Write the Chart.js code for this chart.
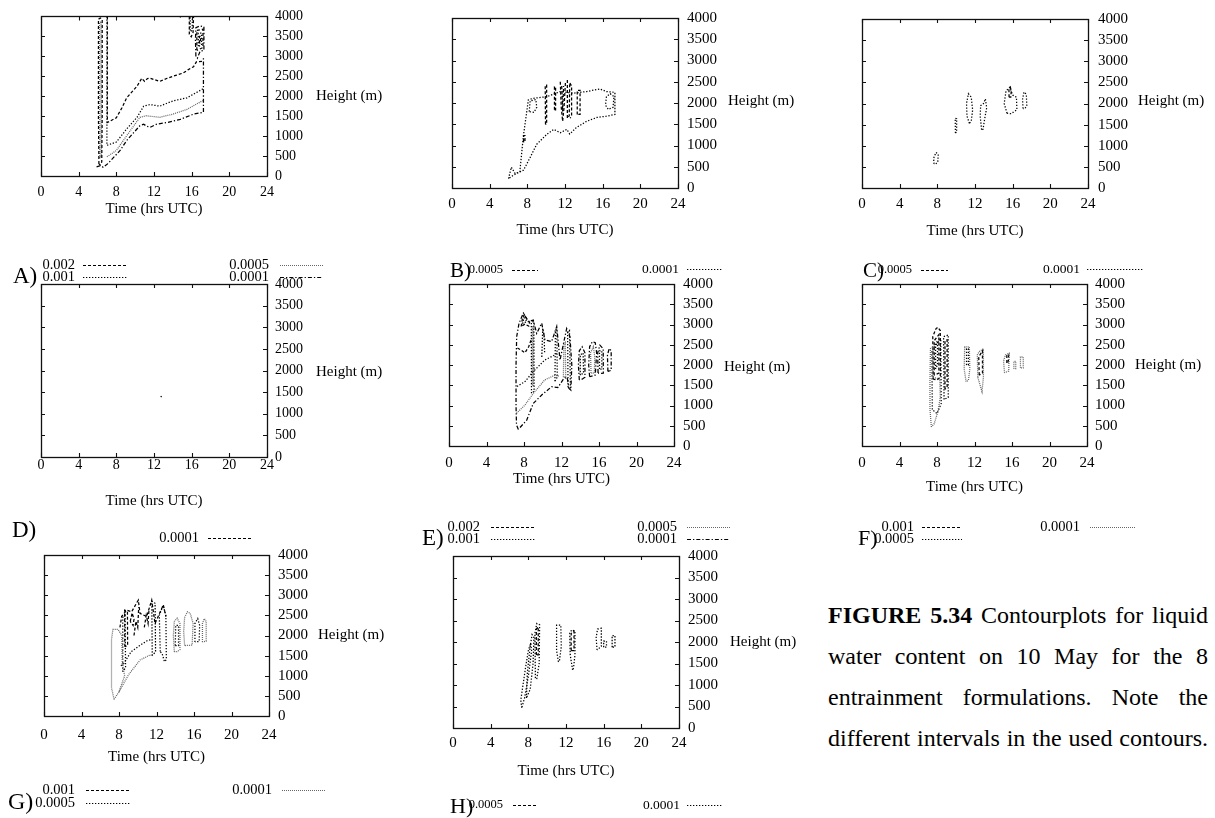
<!DOCTYPE html>
<html>
<head>
<meta charset="utf-8">
<title>Liquid water content contours, 10 May</title>
<script src="https://cdn.jsdelivr.net/npm/chart.js@4.4.1/dist/chart.umd.min.js"></script>
<style>
  html, body { margin: 0; padding: 0; background: #fff; }
  #page { position: relative; width: 1215px; height: 818px; overflow: hidden; background: #fff; }
  #page canvas { position: absolute; left: 0; top: 0; }
  .cap { position: absolute; left: 828px; width: 380px; font-family: 'Liberation Serif', 'Times New Roman', serif;
         font-size: 24px; line-height: 41px; text-align: justify; text-align-last: justify; color: #000; white-space: nowrap; }
  .cap b { font-weight: bold; }
</style>
</head>
<body>
<div id="page">
  <div class="cap" style="top:595px">
    <b>FIGURE 5.34</b> Contourplots for liquid</div>
  <div class="cap" style="top:636px">water content on 10 May for the 8</div>
  <div class="cap" style="top:677px">entrainment formulations. Note the</div>
  <div class="cap" style="top:718px">different intervals in the used contours.</div>
</div>
<script>
// ---------- axes ----------
const xTickValues = [0, 4, 8, 12, 16, 20, 24];
const xTickLabels = ['0', '4', '8', '12', '16', '20', '24'];
const yTickValues = [0, 500, 1000, 1500, 2000, 2500, 3000, 3500, 4000];
const yTickLabels = ['0', '500', '1000', '1500', '2000', '2500', '3000', '3500', '4000'];
const xTitle = 'Time (hrs UTC)';
const yTitle = 'Height (m)';

// ---------- contour levels per panel (kg/kg) ----------
const levelsA = ['0.002', '0.001', '0.0005', '0.0001'];
const levelsB = ['0.0005', '0.0001'];
const levelsC = ['0.0005', '0.0001'];
const levelsD = ['0.0001'];
const levelsE = ['0.002', '0.001', '0.0005', '0.0001'];
const levelsF = ['0.001', '0.0005', '0.0001'];
const levelsG = ['0.001', '0.0005', '0.0001'];
const levelsH = ['0.0005', '0.0001'];

// ---------- contour paths: [time (h), height (m)] ----------
// A
const aColumnOuter = [[6.15,300],[6.1,1500],[6.1,3930],[6.3,3960],[6.5,3930],[6.5,1500],[6.45,350],[6.3,280],[6.15,300]];
const aColumnInner = [[6.25,450],[6.22,3850],[6.38,3870],[6.4,500],[6.25,450]];
const aLine0002 = [[7.05,4000],[7.05,1340],[8.0,1460],[8.6,1710],[9.1,1960],[10.2,2250],[10.7,2450],[11.0,2370],[11.3,2440],[11.6,2450],[12.1,2410],[12.6,2370],[13.4,2450],[14.4,2530],[15.1,2580],[15.6,2660],[16.2,2740],[16.5,2860],[17.1,2870],[17.25,2900]];
const aLine0001 = [[7.0,4000],[7.0,770],[8.0,850],[9.1,1180],[10.2,1470],[10.9,1750],[11.6,1790],[12.6,1750],[14.0,1880],[15.5,1960],[17.1,2170],[17.25,2200]];
const aLine00005 = [[7.0,480],[8.0,640],[9.1,1010],[10.5,1470],[11.2,1510],[12.6,1470],[14.0,1550],[15.5,1670],[17.1,1880],[17.25,1890]];
const aLine00001 = [[5.9,230],[6.3,260],[6.6,220],[7.1,310],[8.4,640],[9.1,890],[10.5,1260],[10.9,1300],[11.2,1250],[11.6,1220],[12.3,1300],[13.4,1340],[14.8,1420],[16.2,1550],[17.1,1590],[17.25,1600],[17.25,2950]];
const aBlobHigh = [[15.75,4000],[15.75,3550],[15.95,3490],[16.15,3600],[16.2,4000]];
const aBlobHighIn = [[15.85,3980],[15.85,3620],[16.05,3650],[16.08,3980]];
const aBlobOuter = [[16.45,3000],[16.4,3400],[16.45,3720],[16.9,3760],[17.3,3740],[17.3,3150],[16.9,3130],[16.6,2950],[16.45,3000]];
const aBlobMid = [[16.55,3150],[16.55,3650],[17.2,3680],[17.2,3220],[16.55,3150]];
const aBlobInner = [[16.7,3250],[16.7,3580],[17.05,3580],[17.05,3280],[16.7,3250]];
const aBlobCore = [[16.82,3330],[16.82,3500],[16.95,3500],[16.95,3330],[16.82,3330]];
const aSpeck = [[14.75,3975],[14.85,3995]];

// B
const bOuter = [[6.0,220],[6.3,490],[6.7,340],[7.2,380],[7.6,1260],[7.9,1730],[8.1,2070],[8.6,2110],[10.1,2150],[11.5,2270],[12.9,2230],[14.3,2270],[15.7,2330],[16.4,2270],[17.3,2250],[17.3,1730],[16.4,1690],[15.4,1660],[14.3,1570],[13.2,1420],[12.5,1270],[12.2,1380],[11.5,1300],[10.8,1380],[10.1,1270],[9.0,1030],[8.3,720],[7.6,420],[6.5,300],[6.0,220]];
const bInnerLeft = [[8.2,1800],[8.3,2050],[8.9,2080],[9.0,1900],[8.7,1780],[8.2,1800]];
const bInnerRight = [[16.4,2150],[16.3,1950],[16.6,1850],[17.1,1900],[17.2,2150],[16.8,2220],[16.4,2150]];
const bSpike8 = [[7.6,1080],[7.6,1230],[7.75,1230],[7.75,1080],[7.6,1080]];
const bSpike10 = [[9.93,1500],[9.9,2420],[10.05,2420],[10.05,1500],[9.93,1500]];
const bSpike11 = [[10.88,1840],[10.88,2380],[11.0,2380],[11.0,1840],[10.88,1840]];
const bSpike12 = [[11.5,2500],[11.6,1900],[11.75,1570],[11.9,1900],[12.05,2500]];
const bSpike12b = [[11.65,2400],[11.75,1800],[11.85,2400]];
const bSpike13 = [[12.25,2540],[12.25,1640],[12.45,1700],[12.5,2480],[12.7,2400],[12.7,1700],[12.55,1640]];
const bSpike14 = [[13.3,1730],[13.3,2300],[13.6,2300],[13.6,1730],[13.3,1730]];

// C
const cLobe8 = [[7.65,570],[7.6,700],[7.85,840],[8.1,800],[8.05,620],[7.8,560],[7.65,570]];
const cLobe10 = [[9.92,1300],[9.9,1650],[10.05,1640],[10.05,1320],[9.92,1300]];
const cLobe11 = [[11.4,1530],[11.15,1700],[11.1,2000],[11.3,2230],[11.6,2150],[11.75,1850],[11.6,1580],[11.4,1530]];
const cLobe13 = [[12.7,1380],[12.55,1700],[12.6,1950],[12.9,2000],[13.1,2110],[13.24,1900],[13.0,1600],[12.85,1390],[12.7,1380]];
const cLobe16 = [[15.4,1770],[15.1,2000],[15.3,2300],[15.7,2380],[16.0,2200],[16.4,2150],[16.45,1850],[16.1,1800],[15.8,1760],[15.4,1770]];
const cLobe17 = [[17.1,1880],[17.05,2100],[17.2,2270],[17.45,2220],[17.5,1950],[17.3,1880],[17.1,1880]];
const cCore16 = [[15.62,2150],[15.6,2350],[15.75,2390],[15.85,2300],[15.8,2150],[15.62,2150]];

// D
const dSpeck = [[12.72,1385],[12.8,1410]];

// E
const eEnvelope = [[7.4,410],[7.2,520],[7.15,1000],[7.15,2000],[7.22,2700],[7.47,3030],[7.93,3280],[8.46,3070],[8.99,3110],[9.35,2780],[9.89,3030],[10.24,2620],[10.95,2580],[11.49,2950],[11.84,2120],[12.55,2900],[12.9,2700],[13.1,2000],[13.0,1380],[12.8,1420],[12.6,1700],[12.2,1650],[11.6,1440],[10.95,1465],[9.89,1260],[8.99,1050],[8.29,640],[7.4,410]];
const eLine00005 = [[7.2,810],[8.1,1010],[9.0,1300],[10.2,1630],[11.3,1750],[11.8,1720]];
const eLine0001 = [[7.25,1470],[8.1,1590],[9.0,1840],[10.2,2120],[11.3,2250],[11.6,2320]];
const eLine0002 = [[7.3,2420],[7.6,2380],[8.1,2300],[8.5,2450],[8.8,2650]];
const eCap = [[7.7,2950],[7.85,3180],[8.05,3240],[8.35,3120],[8.6,3060],[8.5,2960],[8.1,3010],[7.7,2950]];
const eCapIn = [[7.85,3020],[8.0,3170],[8.3,3080],[8.1,3050],[7.85,3020]];
const eColumn9 = [[8.8,1300],[8.78,3050],[9.05,3080],[9.08,1350],[8.8,1300]];
const eColumn9b = [[8.88,1500],[8.88,2950],[8.98,2950],[8.98,1500],[8.88,1500]];
const eFinger10 = [[9.9,2200],[10.0,2900],[10.15,2700],[10.2,2300]];
const eFinger11 = [[11.3,1600],[11.35,2850],[11.5,2900],[11.55,1700],[11.3,1600]];
const eFinger12 = [[12.2,1700],[12.25,2500],[12.4,2550],[12.45,1700],[12.2,1700]];
const eFinger13 = [[12.7,1450],[12.65,2800],[12.85,2850],[12.95,1420],[12.7,1450]];
const eLobe14 = [[13.9,1630],[13.8,2000],[13.9,2350],[14.2,2450],[14.5,2300],[14.5,1700],[14.2,1650],[13.9,1630]];
const eLobe14b = [[14.0,1750],[14.0,2250],[14.3,2300],[14.35,1800],[14.0,1750]];
const eLobe15 = [[15.0,1710],[14.9,2000],[15.0,2450],[15.3,2580],[15.6,2550],[15.75,2300],[15.6,1750],[15.0,1710]];
const eLobe15b = [[15.15,1800],[15.1,2300],[15.4,2450],[15.55,2200],[15.5,1800],[15.15,1800]];
const eLobe16 = [[15.9,1800],[15.86,2300],[16.1,2490],[16.45,2400],[16.46,1800],[16.2,1790],[15.9,1800]];
const eLobe16b = [[16.05,1900],[16.05,2350],[16.3,2350],[16.3,1900],[16.05,1900]];
const eLobe17 = [[16.95,1840],[16.9,2250],[17.1,2410],[17.3,2350],[17.3,1870],[16.95,1840]];

// F
const fOuter = [[7.4,470],[7.25,900],[7.25,1600],[7.3,2400],[7.55,2450],[7.55,1700],[8.3,1650],[8.35,1200],[8.1,850],[7.7,550],[7.4,470]];
const fInner = [[7.5,900],[7.45,2350],[8.4,2650],[8.45,1050],[8.0,800],[7.5,900]];
const fDense8 = [[7.6,1650],[7.55,2700],[7.9,2900],[8.1,2930],[8.35,2850],[8.35,1700],[8.0,1630],[7.6,1650]];
const fDense8b = [[7.7,1750],[7.7,2600],[8.2,2750],[8.2,1800],[7.7,1750]];
const fDense8c = [[7.85,1900],[7.85,2500],[8.05,2600],[8.05,2000],[7.85,1900]];
const fDense9 = [[8.75,1150],[8.7,2700],[9.2,2740],[9.2,1200],[8.75,1150]];
const fDense9b = [[8.85,1400],[8.85,2600],[9.08,2620],[9.08,1450],[8.85,1400]];
const fLobe11 = [[11.1,1590],[10.9,1900],[10.95,2450],[11.45,2450],[11.5,1900],[11.35,1620],[11.1,1590]];
const fLobe11b = [[11.15,2000],[11.15,2400],[11.35,2400],[11.35,2000],[11.15,2000]];
const fLobe13 = [[12.35,1700],[12.3,2250],[12.5,2330],[12.95,2400],[12.95,1700],[12.8,1340],[12.6,1500],[12.35,1700]];
const fLobe13b = [[12.5,1750],[12.45,2200],[12.85,2350],[12.85,1800],[12.5,1750]];
const fLobe15 = [[15.2,1810],[15.1,2100],[15.3,2250],[15.7,2290],[15.65,1850],[15.2,1810]];
const fLobe15b = [[15.45,2050],[15.45,2250],[15.65,2260],[15.6,2050],[15.45,2050]];
const fLobe16 = [[16.2,1910],[16.2,2090],[16.4,2090],[16.4,1910],[16.2,1910]];
const fLobe17 = [[16.9,1930],[16.9,2200],[17.2,2200],[17.2,1930],[16.9,1930]];

// G
const gLobeLeft = [[7.47,415],[7.2,700],[7.2,1900],[7.35,2150],[7.9,2150],[8.3,2000],[8.35,1300],[8.6,1000],[8.0,600],[7.47,415]];
const gBase = [[8.0,600],[9.0,1020],[10.24,1390],[11.3,1515],[11.6,1500]];
const gMid = [[8.2,1250],[8.5,1300],[9.3,1600],[10.2,1750],[11.0,1870],[11.5,1900]];
const gColumn8 = [[8.4,1100],[8.4,2450],[8.65,2500],[8.7,1200],[8.4,1100]];
const gColumn9 = [[8.62,1720],[8.6,2630],[8.9,2600],[8.92,1750],[8.62,1720]];
const gTop = [[8.1,2200],[8.28,2470],[8.82,2630],[9.35,2590],[10.06,2880],[10.24,2550],[10.95,2470],[11.49,2880],[11.84,2300],[12.73,2760],[13.0,2470]];
const gTuft9 = [[9.2,2350],[9.4,2560],[9.6,2400],[9.5,2250],[9.2,2350]];
const gTuft10 = [[9.6,2000],[9.8,2350],[10.0,2200],[10.1,2700]];
const gTuft11 = [[10.7,2200],[10.9,2500],[11.1,2300],[11.2,2650]];
const gColumn12 = [[11.55,1500],[11.5,2850],[11.85,2800],[11.9,1600],[11.55,1500]];
const gColumn13 = [[12.4,1600],[12.3,2500],[12.7,2750],[13.0,2500],[13.05,1400],[12.85,1350],[12.6,1550],[12.4,1600]];
const gLobe14 = [[13.9,1600],[13.8,2000],[13.9,2350],[14.2,2430],[14.5,2300],[14.5,1650],[14.2,1600],[13.9,1600]];
const gLobe14b = [[14.0,1750],[14.05,2250],[14.35,2250],[14.35,1750],[14.0,1750]];
const gLobe15 = [[15.0,1750],[14.9,2100],[15.0,2450],[15.3,2590],[15.6,2550],[15.9,2300],[15.8,1760],[15.0,1750]];
const gLobe16 = [[16.1,1840],[16.1,2300],[16.4,2420],[16.6,2250],[16.55,1850],[16.1,1840]];
const gLobe17 = [[16.9,1840],[16.9,2300],[17.1,2420],[17.3,2350],[17.3,1860],[16.9,1840]];

// H
const hSlant7 = [[7.3,470],[7.2,650],[7.7,1400],[8.0,1800],[8.25,1970],[8.35,1800],[8.0,1200],[7.6,700],[7.3,470]];
const hSlant8 = [[7.8,700],[7.9,1300],[8.2,1900],[8.4,2170],[8.6,2100],[8.5,1500],[8.2,900],[7.8,700]];
const hLobe9 = [[8.75,1160],[8.7,2200],[8.9,2430],[9.2,2400],[9.15,1500],[8.9,1150],[8.75,1160]];
const hCore9 = [[8.85,1700],[8.85,2300],[9.05,2350],[9.05,1700],[8.85,1700]];
const hLobe11 = [[11.2,1540],[11.0,1800],[11.0,2390],[11.45,2390],[11.5,1900],[11.3,1550],[11.2,1540]];
const hLobe13 = [[12.7,1350],[12.45,1700],[12.4,2200],[12.6,2280],[12.95,2250],[12.95,1700],[12.8,1400],[12.7,1350]];
const hCore13 = [[12.55,1800],[12.55,2200],[12.85,2250],[12.85,1800],[12.55,1800]];
const hLobe15 = [[15.3,1814],[15.2,2100],[15.35,2300],[15.75,2320],[15.75,1900],[15.3,1814]];
const hLobe16 = [[16.0,1880],[16.0,2020],[16.3,2020],[16.3,1880],[16.0,1880]];
const hLobe17 = [[16.9,1880],[16.9,2150],[17.2,2150],[17.2,1880],[16.9,1880]];

// ---------- which level each path belongs to (index into the panel's level list) ----------
const contoursA = [[0,aColumnOuter],[2,aColumnInner],[0,aLine0002],[1,aLine0001],[2,aLine00005],[3,aLine00001],
                   [0,aBlobHigh],[1,aBlobHighIn],[3,aBlobOuter],[0,aBlobMid],[1,aBlobInner],[0,aBlobCore],[0,aSpeck]];
const contoursB = [[1,bOuter],[1,bInnerLeft],[1,bInnerRight],[0,bSpike8],[0,bSpike10],[0,bSpike11],[0,bSpike12],[0,bSpike12b],[0,bSpike13],[0,bSpike14]];
const contoursC = [[1,cLobe8],[1,cLobe10],[1,cLobe11],[1,cLobe13],[1,cLobe16],[1,cLobe17],[0,cCore16]];
const contoursD = [[0,dSpeck]];
const contoursE = [[3,eEnvelope],[2,eLine00005],[1,eLine0001],[0,eLine0002],[0,eCap],[1,eCapIn],[1,eColumn9],[2,eColumn9b],[1,eFinger10],
                   [1,eFinger11],[2,eFinger12],[1,eFinger13],[3,eLobe14],[1,eLobe14b],[3,eLobe15],[2,eLobe15b],[3,eLobe16],[1,eLobe16b],[3,eLobe17]];
const contoursF = [[2,fOuter],[1,fInner],[0,fDense8],[0,fDense8b],[1,fDense8c],[1,fDense9],[0,fDense9b],[2,fLobe11],[1,fLobe11b],
                   [2,fLobe13],[0,fLobe13b],[2,fLobe15],[0,fLobe15b],[2,fLobe16],[2,fLobe17]];
const contoursG = [[2,gLobeLeft],[2,gBase],[1,gMid],[1,gColumn8],[0,gColumn9],[0,gTop],[0,gTuft9],[0,gTuft10],[0,gTuft11],[1,gColumn12],[1,gColumn13],
                   [2,gLobe14],[1,gLobe14b],[2,gLobe15],[1,gLobe16],[2,gLobe17]];
const contoursH = [[1,hSlant7],[1,hSlant8],[1,hLobe9],[0,hCore9],[1,hLobe11],[1,hLobe13],[0,hCore13],[1,hLobe15],[1,hLobe16],[1,hLobe17]];

// ---------- line styles, in key order (dashed, dotted, fine dots, dash-dot) ----------
const lineStyles = [
  { dash: [3, 2], color: '#000' },
  { dash: [1.3, 1.7], color: '#000' },
  { dash: [1, 1], color: '#666' },
  { dash: [4, 2, 1.3, 2], color: '#000' }
];

// ---------- panel placement on the page ----------
// box: [left, top, right, bottom] of the plot frame; keys: [textRight, y, lineStart, lineEnd, fontSize]
const panels = [
  { levels: levelsA, contours: contoursA, box: [41,14,267,176], font: 14, xPad: 7.5, yPad: 8, yTitlePos: [316,96], xTitleY: 209,
    letter: ['A)', 13, 283, 23], keys: [[75,265,83,127,14.5],[75,277,83,127,14.5],[269,265,280,323,14.5],[269,277,280,323,14.5]] },
  { levels: levelsB, contours: contoursB, box: [452,15,678,188], font: 15, xPad: 7, yPad: 9, yTitlePos: [728,101], xTitleY: 230,
    letter: ['B)', 450, 277, 21], keys: [[503,270,512,538,12.5],[679,269,687,723,13.5]] },
  { levels: levelsC, contours: contoursC, box: [862,15,1088,188], font: 15, xPad: 7, yPad: 10, yTitlePos: [1138,101], xTitleY: 231,
    letter: ['C)', 863, 277, 21], keys: [[912,270,921,948,12.5],[1080,269,1087,1143,13.5]] },
  { levels: levelsD, contours: contoursD, box: [41,284,267,457], font: 14, xPad: 0, yPad: 8, yTitlePos: [316,372], xTitleY: 501,
    letter: ['D)', 12, 537, 23], keys: [[199,538,208,253,14.5]] },
  { levels: levelsE, contours: contoursE, box: [449,284,674,446], font: 15, xPad: 8, yPad: 9, yTitlePos: [724,367], xTitleY: 479,
    letter: ['E)', 422, 545, 23], keys: [[480,527,491,535,14.5],[480,539,491,535,14.5],[677,527,687,730,14.5],[677,539,687,730,14.5]] },
  { levels: levelsF, contours: contoursF, box: [862,284,1087,446], font: 15, xPad: 8, yPad: 8, yTitlePos: [1135,365], xTitleY: 487,
    letter: ['F)', 858, 545, 22], keys: [[914,527,922,962,14.5],[914,539,922,962,14.5],[1080,527,1090,1135,14.5]] },
  { levels: levelsG, contours: contoursG, box: [44,555,269,716], font: 15, xPad: 10, yPad: 9, yTitlePos: [318,635], xTitleY: 757,
    letter: ['G)', 8, 809, 24], keys: [[75,790,86,130,14.5],[75,803,86,130,14.5],[272,790,282,325,14.5]] },
  { levels: levelsH, contours: contoursH, box: [453,556,679,728], font: 15, xPad: 6, yPad: 9, yTitlePos: [730,642], xTitleY: 771,
    letter: ['H)', 450, 813, 22], keys: [[503,805,513,538,12.5],[680,805,687,723,13.5]] }
];

const PAGE_W = 1215, PAGE_H = 818;
const Y_AXIS_W = 40, X_AXIS_H = 26;
const SERIF = "'Liberation Serif', 'Times New Roman', serif";
Chart.defaults.font.family = SERIF;
Chart.defaults.color = '#000';

// Frame with inward tick marks on all four sides, plus titles, panel letter and key.
const panelDecor = {
  id: 'panelDecor',
  afterDatasetsDraw(chart, args, opts) {
    const { ctx, chartArea: a, scales: { x, y } } = chart;
    ctx.save();
    ctx.strokeStyle = '#111';
    ctx.lineWidth = 1.3;
    ctx.setLineDash([]);
    ctx.strokeRect(Math.round(a.left) + 0.5, Math.round(a.top) + 0.5, Math.round(a.right - a.left), Math.round(a.bottom - a.top));
    const tl = 4;
    ctx.lineWidth = 1.1;
    ctx.beginPath();
    xTickValues.forEach(v => {
      const px = Math.round(x.getPixelForValue(v)) + 0.5;
      ctx.moveTo(px, a.bottom); ctx.lineTo(px, a.bottom - tl);
      ctx.moveTo(px, a.top); ctx.lineTo(px, a.top + tl);
    });
    yTickValues.forEach(v => {
      const py = Math.round(y.getPixelForValue(v)) + 0.5;
      ctx.moveTo(a.left, py); ctx.lineTo(a.left + tl, py);
      ctx.moveTo(a.right, py); ctx.lineTo(a.right - tl, py);
    });
    ctx.stroke();
    ctx.restore();
  },
  afterDraw(chart, args, opts) {
    const p = opts.panel;
    const { ctx } = chart;
    ctx.save();
    ctx.fillStyle = '#000';
    // axis titles
    ctx.font = `15px ${SERIF}`;
    ctx.textBaseline = 'middle';
    ctx.textAlign = 'left';
    ctx.fillText(yTitle, p.yTitlePos[0], p.yTitlePos[1]);
    ctx.textAlign = 'center';
    ctx.fillText(xTitle, (p.box[0] + p.box[2]) / 2, p.xTitleY);
    // panel letter
    const [letter, lx, lb, ls] = p.letter;
    ctx.font = `${ls}px ${SERIF}`;
    ctx.textAlign = 'left';
    ctx.textBaseline = 'alphabetic';
    ctx.fillText(letter, lx, lb);
    // key
    p.keys.forEach((k, i) => {
      const [tr, ky, s1, s2, fs] = k;
      ctx.font = `${fs}px ${SERIF}`;
      ctx.textAlign = 'right';
      ctx.textBaseline = 'middle';
      ctx.fillStyle = '#000';
      ctx.fillText(p.levels[i], tr, ky);
      const st = lineStyles[i];
      ctx.strokeStyle = st.color;
      ctx.lineWidth = 1;
      ctx.setLineDash(st.dash);
      ctx.beginPath();
      ctx.moveTo(s1, Math.round(ky) + 0.5);
      ctx.lineTo(s2, Math.round(ky) + 0.5);
      ctx.stroke();
    });
    ctx.restore();
  }
};

const page = document.getElementById('page');

panels.forEach(p => {
  const canvas = document.createElement('canvas');
  canvas.width = PAGE_W;
  canvas.height = PAGE_H;
  canvas.style.width = PAGE_W + 'px';
  canvas.style.height = PAGE_H + 'px';
  page.appendChild(canvas);

  const datasets = p.contours.map(([lvl, pts]) => ({
    label: p.levels[lvl],
    data: pts.map(([t, h]) => ({ x: t, y: h })),
    showLine: true,
    pointRadius: 0,
    borderWidth: 1.25,
    borderColor: lineStyles[lvl].color,
    borderDash: lineStyles[lvl].dash,
    fill: false,
    tension: 0
  }));

  const [L, T, R, B] = p.box;
  new Chart(canvas, {
    type: 'scatter',
    data: { datasets },
    options: {
      responsive: false,
      animation: false,
      events: [],
      devicePixelRatio: 1,
      layout: { padding: { left: L, top: T, right: PAGE_W - R - Y_AXIS_W, bottom: PAGE_H - B - X_AXIS_H } },
      plugins: {
        legend: { display: false },
        tooltip: { enabled: false },
        panelDecor: { panel: p }
      },
      scales: {
        x: {
          type: 'linear', position: 'bottom', min: 0, max: 24,
          afterBuildTicks: s => { s.ticks = xTickValues.map(v => ({ value: v })); },
          afterFit: s => { s.height = X_AXIS_H; },
          grid: { display: false, drawTicks: false },
          border: { display: false },
          ticks: {
            padding: p.xPad, autoSkip: false, maxRotation: 0, color: '#000',
            font: { size: p.font, family: SERIF },
            callback: (v, i) => xTickLabels[i]
          }
        },
        y: {
          type: 'linear', position: 'right', min: 0, max: 4000,
          afterBuildTicks: s => { s.ticks = yTickValues.map(v => ({ value: v })); },
          afterFit: s => { s.width = Y_AXIS_W; },
          grid: { display: false, drawTicks: false },
          border: { display: false },
          ticks: {
            padding: p.yPad, autoSkip: false, color: '#000',
            font: { size: p.font, family: SERIF },
            callback: (v, i) => yTickLabels[i]
          }
        }
      }
    },
    plugins: [panelDecor]
  });
});
</script>
</body>
</html>
